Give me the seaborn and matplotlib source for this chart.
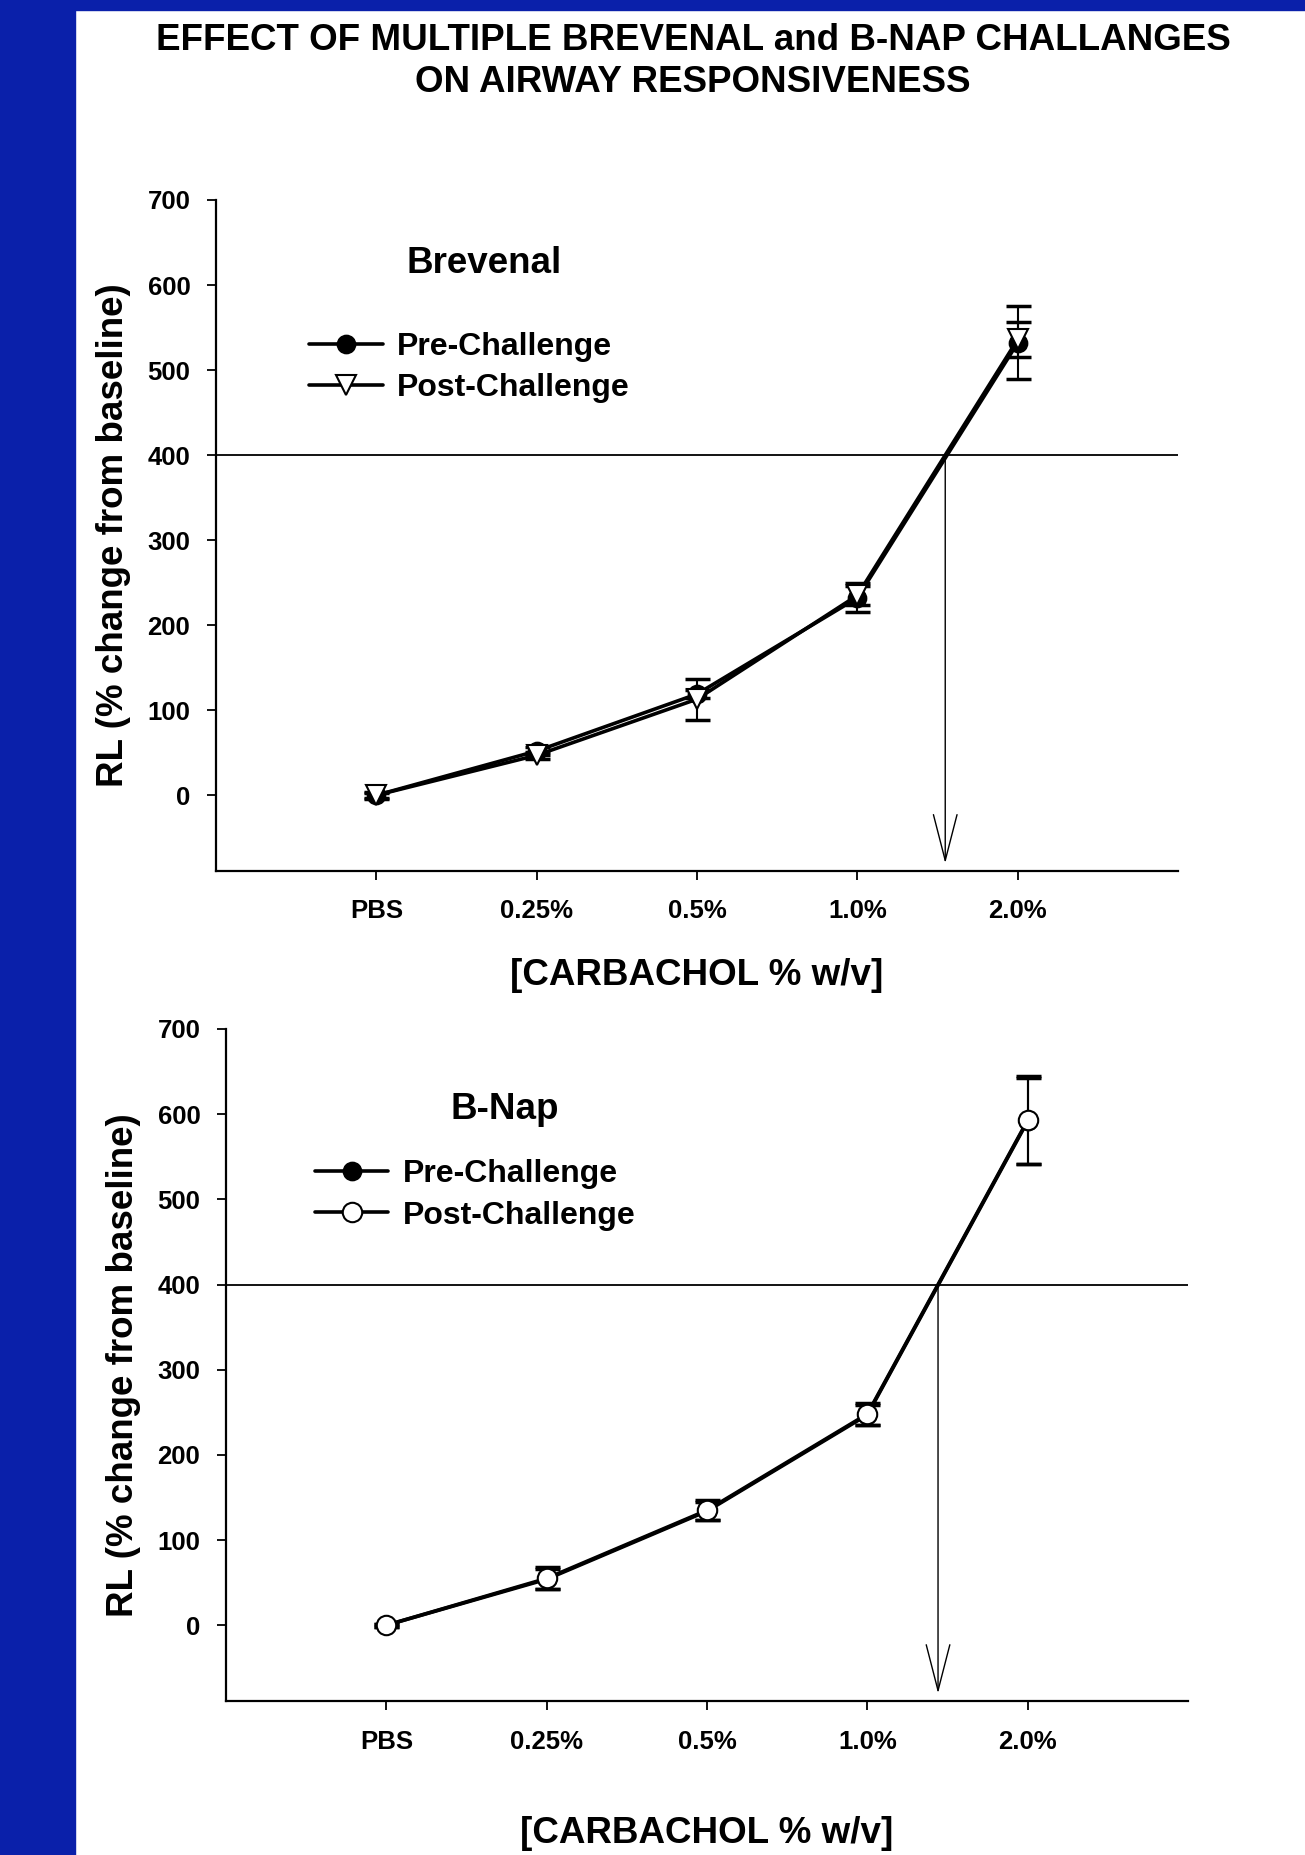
import numpy as np
import matplotlib
matplotlib.use("Agg")
import matplotlib.pyplot as plt
from matplotlib.patches import Rectangle
import seaborn as sns

sns.set_style("ticks")
plt.rcParams['font.family'] = ['Liberation Sans', 'DejaVu Sans']
plt.rcParams['font.weight'] = 'bold'
for k in ['text.color', 'axes.labelcolor', 'xtick.color', 'ytick.color', 'axes.edgecolor']:
    plt.rcParams[k] = 'black'

# carbachol doses on the x axis
concentrations = ["PBS", "0.25%", "0.5%", "1.0%", "2.0%"]

# Brevenal panel (mean, SE)
brevenal_pre = [0, 52, 119, 232, 532]
brevenal_pre_err = [4, 5, 5, 17, 43]
brevenal_post = [0, 47, 113, 235, 536]
brevenal_post_err = [3, 4, 24, 11, 21]

# B-Nap panel (mean, SE)
bnap_pre = [0, 54, 134, 247, 592]
bnap_pre_err = [2, 12, 11, 12, 50]
bnap_post = [0, 55, 135, 248, 593]
bnap_post_err = [2, 13, 12, 13, 52]

threshold = 400

TICK_FS = 18.5
LABEL_FS = 26.5
LEG_FS = 23


def draw_panel(ax, pre, pre_err, post, post_err, post_marker, post_ms, name, name_xy, leg_xy, xlabelpad):
    x = np.arange(len(concentrations))
    ax.errorbar(x, pre, yerr=pre_err, fmt="none", ecolor="black", elinewidth=1.5, capsize=9, capthick=2.5)
    ax.errorbar(x, post, yerr=post_err, fmt="none", ecolor="black", elinewidth=1.5, capsize=9, capthick=2.5)
    sns.lineplot(x=x, y=pre, ax=ax, color="black", lw=2.6, marker="o", markersize=13,
                 markerfacecolor="black", markeredgecolor="black", markeredgewidth=1.2,
                 label="Pre-Challenge")
    sns.lineplot(x=x, y=post, ax=ax, color="black", lw=2.6, marker=post_marker, markersize=post_ms,
                 markerfacecolor="white", markeredgecolor="black", markeredgewidth=1.5,
                 label="Post-Challenge")

    # PC400 line + arrow down to the axis
    ax.axhline(threshold, color="black", lw=1.3, zorder=1)
    xc = np.interp(threshold, post, x)
    ax.annotate("", xy=(xc, -80), xytext=(xc, threshold),
                arrowprops=dict(arrowstyle="->,head_length=33,head_width=8.5", mutation_scale=1,
                                lw=1.0, color="black", shrinkA=0, shrinkB=0))

    ax.set_xlim(-1, 5)
    ax.set_ylim(-89, 700)
    ax.set_xticks(x)
    ax.set_xticklabels(concentrations)
    ax.set_yticks(range(0, 701, 100))
    ax.tick_params(axis="both", direction="out", length=6.5, width=1.3, labelsize=TICK_FS, pad=12)
    ax.tick_params(axis="x", pad=14)
    for lab in ax.get_xticklabels() + ax.get_yticklabels():
        lab.set_fontweight("bold")
    sns.despine(ax=ax)
    for s in ["left", "bottom"]:
        ax.spines[s].set_linewidth(1.6)

    ax.set_ylabel("RL (% change from baseline)", fontsize=LABEL_FS, fontweight="bold", labelpad=12)
    ax.set_xlabel("[CARBACHOL % w/v]", fontsize=LABEL_FS, fontweight="bold", labelpad=xlabelpad)

    ax.text(name_xy[0], name_xy[1], name, fontsize=LABEL_FS, fontweight="bold", ha="center", va="center")

    ax.legend(loc="upper left", bbox_to_anchor=leg_xy, frameon=False,
              prop={"weight": "bold", "size": LEG_FS}, handlelength=2.3, handletextpad=0.45,
              labelspacing=0.35, borderpad=0, borderaxespad=0, numpoints=1)


fig = plt.figure(figsize=(13.05, 18.55), dpi=100)
fig.patch.set_facecolor("white")
fig.patches.append(Rectangle((0, 0), 75 / 1305, 1, transform=fig.transFigure, color="#0A20AA", zorder=0))
fig.patches.append(Rectangle((0, 1 - 10 / 1855), 1, 10 / 1855, transform=fig.transFigure, color="#0A20AA", zorder=0))

ax1 = fig.add_axes([0.1655, 0.5305, 0.7372, 0.3617])
ax2 = fig.add_axes([0.1732, 0.0830, 0.7372, 0.3623])

draw_panel(ax1, brevenal_pre, brevenal_pre_err, brevenal_post, brevenal_post_err, "v", 15,
           "Brevenal", (0.67, 625), (0.097, 0.803), 25)
draw_panel(ax2, bnap_pre, bnap_pre_err, bnap_post, bnap_post_err, "o", 14,
           "B-Nap", (0.74, 606), (0.0925, 0.806), 45)

fig.text(0.531, 1 - 40 / 1855, "EFFECT OF MULTIPLE BREVENAL and B-NAP CHALLANGES",
         fontsize=LABEL_FS, fontweight="bold", ha="center", va="center")
fig.text(0.531, 1 - 82 / 1855, "ON AIRWAY RESPONSIVENESS",
         fontsize=LABEL_FS, fontweight="bold", ha="center", va="center")

fig.savefig("out.png", dpi=100)
